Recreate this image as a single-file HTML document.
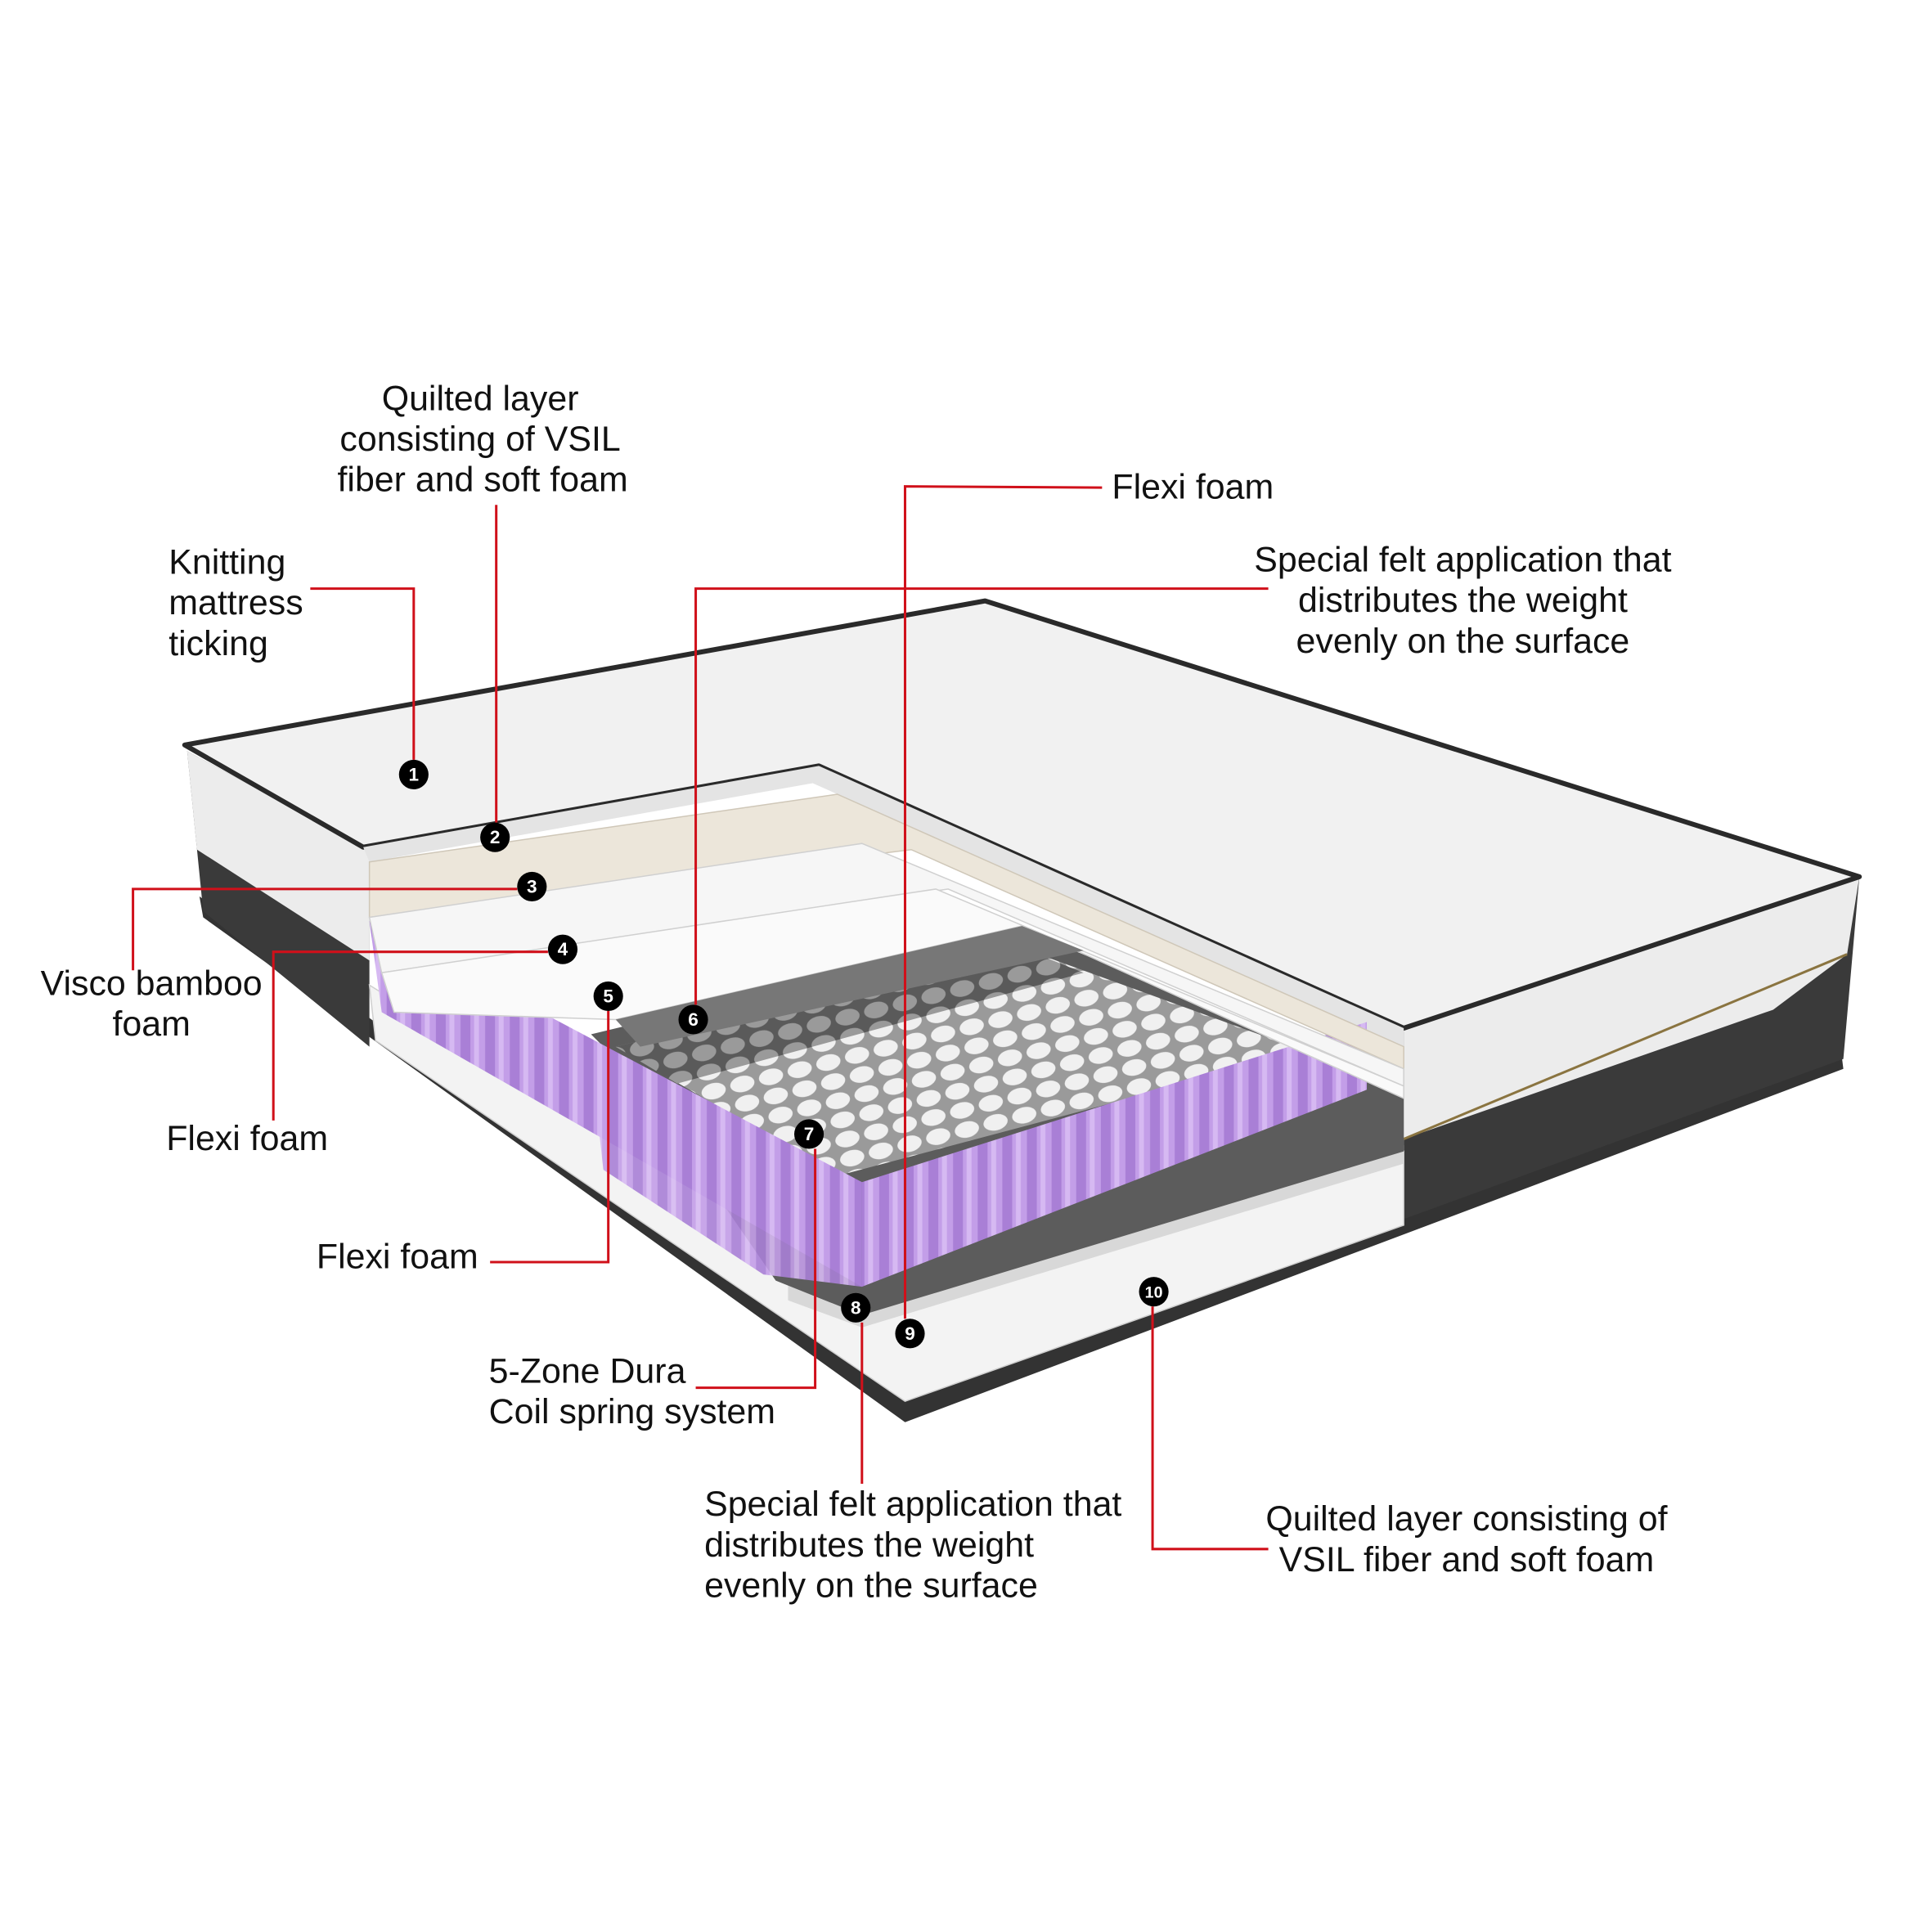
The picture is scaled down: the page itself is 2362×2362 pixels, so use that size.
<!DOCTYPE html>
<html><head><meta charset="utf-8"><style>
html,body{margin:0;padding:0;background:#fff}
svg{display:block}
text{font-family:"Liberation Sans",Arial,sans-serif;font-size:28.5px;fill:#111}
</style></head><body>
<svg width="2362" height="2362" viewBox="0 0 1569 1569" xmlns="http://www.w3.org/2000/svg">
<defs>
<pattern id="stripes" width="20" height="200" patternUnits="userSpaceOnUse">
<rect width="20" height="200" fill="#a97fd6"/>
<rect x="2" width="12" height="200" fill="#c39ee8"/>
<rect x="5" width="4" height="200" fill="#d6b9f2"/>
</pattern>
<pattern id="coils" width="24" height="16" patternUnits="userSpaceOnUse" patternTransform="rotate(-14)">
<rect width="24" height="16" fill="#9a9a9a"/>
<ellipse cx="12" cy="8" rx="10" ry="6.5" fill="#f0f0f0"/>
</pattern>
<pattern id="coilsg" width="24" height="16" patternUnits="userSpaceOnUse" patternTransform="rotate(-14)">
<rect width="24" height="16" fill="#5a5a5a"/>
<ellipse cx="12" cy="8" rx="10" ry="6.5" fill="#9a9a9a"/>
</pattern>
</defs>

<polygon points="162,728 735,1138 1495,852 1497,868 735,1155 165,745" fill="#333"/>
<polygon points="1140,835 1510,712 1497,860 1140,990" fill="#3a3a3a"/>
<polygon points="1140,835 1510,712 1500,775 1440,820 1140,925" fill="#ececec"/>
<line x1="1140" y1="925" x2="1500" y2="775" stroke="#8a7440" stroke-width="2"/>
<polygon points="152,610 300,690 300,850 165,740" fill="#3a3a3a"/>
<polygon points="152,610 300,690 300,780 160,690" fill="#ececec"/>
<polygon points="150,605 800,488 1510,712 1140,835 665,622 295,688" fill="#f1f1f1" stroke="#2a2a2a" stroke-width="4" stroke-linejoin="round"/>
<polygon points="665,622 1140,835 1140,850 660,636 300,700 295,688" fill="#e4e4e4"/>

<polygon points="300,800 720,1060 1140,935 1140,995 735,1138 305,845" fill="#f3f3f3" stroke="#cfcfcf"/>
<polygon points="640,1040 700,1062 1140,930 1140,945 700,1078 640,1056" fill="#d8d8d8"/>
<polygon points="480,840 830,755 1140,880 1140,935 700,1068 630,1040 520,880" fill="#5c5c5c"/>
<polygon points="500,850 830,770 1050,850 1000,870 680,955" fill="url(#coils)"/>
<polygon points="500,850 830,770 880,790 550,880" fill="url(#coilsg)"/>
<polygon points="300,748 700,960 700,1045 310,822" fill="url(#stripes)"/>
<polygon points="480,860 700,960 700,1045 620,1035 490,950" fill="url(#stripes)" opacity="0.9"/>
<polygon points="700,960 1110,830 1110,885 700,1045" fill="url(#stripes)"/>

<polygon points="300,700 680,645 1140,850 1140,868 740,690 300,745" fill="#ece6da" stroke="#cfc7b8"/>
<polygon points="300,745 700,685 1140,868 1140,882 770,722 310,790" fill="#f6f6f6" stroke="#d0d0d0"/>
<polygon points="310,790 760,722 1140,882 1140,892 830,752 500,828 320,822" fill="#fafafa" stroke="#d0d0d0"/>
<polygon points="500,828 830,752 880,772 520,850" fill="#777"/>

<g fill="none" stroke="#d0101a" stroke-width="2">
<polyline points="252,478 336,478 336,617"/>
<polyline points="403,410 403,668"/>
<polyline points="108,788 108,722 420,722"/>
<polyline points="222,910 222,773 445,773"/>
<polyline points="398,1025 494,1025 494,821"/>
<polyline points="1030,478 565,478 565,816"/>
<polyline points="565,1127 662,1127 662,933"/>
<polyline points="700,1205 700,1074"/>
<polyline points="895,396 735,395 735,1071"/>
<polyline points="1030,1258 936,1258 936,1061"/>
</g>

<g text-anchor="middle">
<circle cx="336" cy="629" r="12" fill="#000"/><text x="336" y="634" style="fill:#fff;font-size:15px;font-weight:bold">1</text>
<circle cx="402" cy="680" r="12" fill="#000"/><text x="402" y="685" style="fill:#fff;font-size:15px;font-weight:bold">2</text>
<circle cx="432" cy="720" r="12" fill="#000"/><text x="432" y="725" style="fill:#fff;font-size:15px;font-weight:bold">3</text>
<circle cx="457" cy="771" r="12" fill="#000"/><text x="457" y="776" style="fill:#fff;font-size:15px;font-weight:bold">4</text>
<circle cx="494" cy="809" r="12" fill="#000"/><text x="494" y="814" style="fill:#fff;font-size:15px;font-weight:bold">5</text>
<circle cx="563" cy="828" r="12" fill="#000"/><text x="563" y="833" style="fill:#fff;font-size:15px;font-weight:bold">6</text>
<circle cx="657" cy="921" r="12" fill="#000"/><text x="657" y="926" style="fill:#fff;font-size:15px;font-weight:bold">7</text>
<circle cx="695" cy="1062" r="12" fill="#000"/><text x="695" y="1067" style="fill:#fff;font-size:15px;font-weight:bold">8</text>
<circle cx="739" cy="1083" r="12" fill="#000"/><text x="739" y="1088" style="fill:#fff;font-size:15px;font-weight:bold">9</text>
<circle cx="937" cy="1049" r="12" fill="#000"/><text x="937" y="1054" style="fill:#fff;font-size:13px;font-weight:bold">10</text>
</g>

<g text-anchor="middle">
<text x="390" y="333">Quilted layer</text>
<text x="390" y="366">consisting of VSIL</text>
<text x="392" y="399">fiber and soft foam</text>
<text x="1188" y="464">Special felt application that</text>
<text x="1188" y="497">distributes the weight</text>
<text x="1188" y="530">evenly on the surface</text>
<text x="123" y="808">Visco bamboo</text>
<text x="123" y="841">foam</text>
<text x="1191" y="1243">Quilted layer consisting of</text>
<text x="1191" y="1276">VSIL fiber and soft foam</text>
</g>
<text x="137" y="466">Knitting</text>
<text x="137" y="499">mattress</text>
<text x="137" y="532">ticking</text>
<text x="903" y="405">Flexi foam</text>
<text x="135" y="934">Flexi foam</text>
<text x="257" y="1030">Flexi foam</text>
<text x="397" y="1123">5-Zone Dura</text>
<text x="397" y="1156">Coil spring system</text>
<text x="572" y="1231">Special felt application that</text>
<text x="572" y="1264">distributes the weight</text>
<text x="572" y="1297">evenly on the surface</text>
</svg>
</body></html>
